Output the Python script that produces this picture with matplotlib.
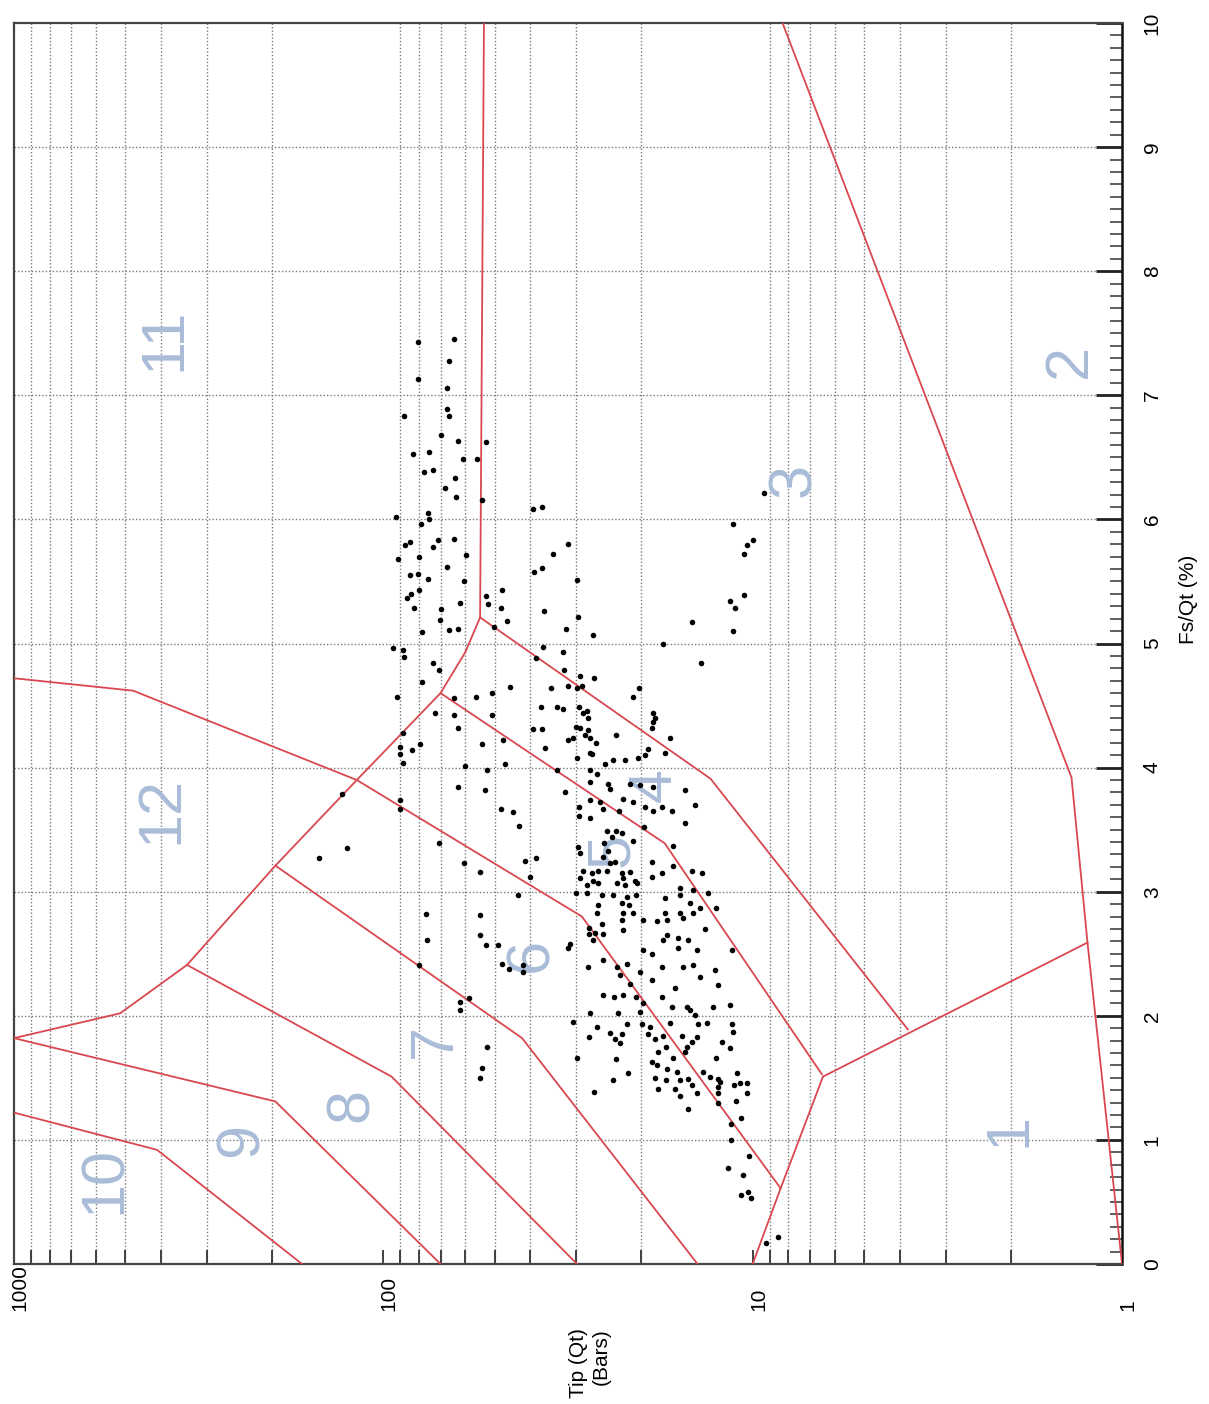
import numpy as np
import matplotlib
matplotlib.use("Agg")
import matplotlib.pyplot as plt
import matplotlib.transforms as mtransforms
from matplotlib.ticker import FixedLocator, NullFormatter

plt.rcParams['font.family'] = ['Liberation Sans', 'DejaVu Sans']

# axis ticks
qt_major = [1000, 100, 10, 1]
qt_labels = ['1000', '100', '10', '1']
qt_grid = [m * 10 ** k for k in range(3) for m in range(2, 10)]
fs_major = list(range(0, 11))
fs_minor = [i / 10 for i in range(0, 101)]

# zone boundaries (Qt in bars, Fs/Qt in %)
b_10_9_qt = [1000, 410, 166]
b_10_9_fs = [1.22, 0.92, 0.0]
b_9_8_qt = [1000, 196, 70]
b_9_8_fs = [1.82, 1.31, 0.0]
b_12_low_qt = [1000, 516, 340, 196, 118, 70, 60, 54.7]
b_12_low_fs = [1.82, 2.02, 2.41, 3.21, 3.90, 4.60, 4.93, 5.21]
b_11_3_qt = [54.7, 53.4]
b_11_3_fs = [5.21, 10.0]
b_12_11_qt = [1000, 476, 118, 29.0, 8.4]
b_12_11_fs = [4.72, 4.62, 3.90, 2.80, 0.61]
b_8_7_qt = [340, 95, 29.9]
b_8_7_fs = [2.41, 1.51, 0.0]
b_7_6_qt = [196, 42.1, 14.1]
b_7_6_fs = [3.21, 1.82, 0.0]
b_5_4_qt = [70, 17.3, 6.5]
b_5_4_fs = [4.60, 3.39, 1.53]
b_4_3_qt = [54.7, 13.0, 3.8]
b_4_3_fs = [5.21, 3.91, 1.89]
b_1_top_qt = [10.0, 8.4, 6.45]
b_1_top_fs = [0.0, 0.61, 1.51]
b_1_2_qt = [6.45, 1.24]
b_1_2_fs = [1.51, 2.59]
b_2_qt = [8.3, 1.37, 1.24, 1.0]
b_2_fs = [10.0, 3.92, 2.59, 0.0]

boundaries = [
    (b_10_9_qt, b_10_9_fs), (b_9_8_qt, b_9_8_fs), (b_12_low_qt, b_12_low_fs),
    (b_11_3_qt, b_11_3_fs), (b_12_11_qt, b_12_11_fs), (b_8_7_qt, b_8_7_fs),
    (b_7_6_qt, b_7_6_fs), (b_5_4_qt, b_5_4_fs), (b_4_3_qt, b_4_3_fs),
    (b_1_top_qt, b_1_top_fs), (b_1_2_qt, b_1_2_fs), (b_2_qt, b_2_fs),
]

# zone numbers
zone_names = ['1', '2', '3', '4', '5', '6', '7', '8', '9', '10', '11', '12']
zone_qt = [2.01, 1.38, 7.68, 18.4, 23.9, 39.6, 72.4, 121, 241, 567, 390, 397]
zone_fs = [1.08, 7.28, 6.32, 3.86, 3.34, 2.49, 1.80, 1.28, 1.00, 0.68, 7.45, 3.66]

# CPT readings: log10(Qt), Fs/Qt %
dots = np.array([
    (1.906, 7.43), (1.809, 7.45), (1.822, 7.28), (1.906, 7.13), (1.828, 7.06),
    (1.944, 6.83), (1.828, 6.89), (1.822, 6.83), (1.844, 6.68), (1.798, 6.63),
    (1.722, 6.62), (1.920, 6.53), (1.876, 6.54), (1.784, 6.49), (1.746, 6.49),
    (1.890, 6.38), (1.865, 6.40), (1.806, 6.33), (1.833, 6.25), (1.803, 6.18),
    (1.733, 6.16), (1.595, 6.08), (1.570, 6.10), (1.966, 6.02), (1.879, 6.05),
    (1.876, 6.00), (1.898, 5.96), (1.941, 5.79), (1.928, 5.82), (1.852, 5.83),
    (1.865, 5.78), (1.809, 5.84), (1.960, 5.68), (1.903, 5.70), (1.776, 5.71),
    (1.540, 5.72), (1.500, 5.80), (1.928, 5.55), (1.906, 5.56), (1.879, 5.52),
    (1.828, 5.62), (1.592, 5.58), (1.570, 5.61), (1.782, 5.50), (1.476, 5.51),
    (1.936, 5.37), (1.925, 5.40), (1.903, 5.43), (1.917, 5.29), (1.844, 5.28),
    (1.846, 5.19), (1.792, 5.33), (1.722, 5.38), (1.717, 5.32), (1.679, 5.43),
    (1.681, 5.29), (1.665, 5.18), (1.565, 5.26), (1.473, 5.21), (1.895, 5.09),
    (1.822, 5.11), (1.798, 5.12), (1.700, 5.13), (1.505, 5.12), (1.432, 5.07),
    (1.974, 4.96), (1.947, 4.95), (1.944, 4.89), (1.865, 4.84), (1.849, 4.79),
    (1.895, 4.69), (1.568, 4.97), (1.587, 4.88), (1.513, 4.93), (1.511, 4.79),
    (1.467, 4.74), (1.430, 4.72), (1.657, 4.65), (1.546, 4.64), (1.500, 4.66),
    (1.476, 4.64), (1.462, 4.66), (1.324, 4.57), (1.308, 4.64), (1.963, 4.57),
    (1.809, 4.56), (1.749, 4.57), (1.706, 4.60),
    (0.969, 6.21), (1.053, 5.96), (0.999, 5.83), (1.015, 5.79), (1.023, 5.72),
    (1.023, 5.39), (1.061, 5.34), (1.048, 5.29), (1.164, 5.17), (1.053, 5.10),
    (1.243, 5.00), (1.140, 4.84),
    (1.573, 4.49), (1.530, 4.49), (1.513, 4.47), (1.470, 4.49), (1.448, 4.46),
    (1.860, 4.44), (1.809, 4.42), (1.706, 4.42), (1.459, 4.44), (1.446, 4.40),
    (1.270, 4.44), (1.264, 4.40), (1.947, 4.28), (1.798, 4.32), (1.595, 4.31),
    (1.570, 4.31), (1.478, 4.33), (1.467, 4.32), (1.446, 4.30), (1.454, 4.26),
    (1.440, 4.24), (1.272, 4.32), (1.270, 4.37), (1.676, 4.22), (1.500, 4.22),
    (1.486, 4.24), (1.424, 4.20), (1.370, 4.26), (1.224, 4.24), (1.955, 4.17),
    (1.922, 4.14), (1.901, 4.19), (1.733, 4.19), (1.562, 4.16), (1.476, 4.08),
    (1.440, 4.12), (1.435, 4.11), (1.283, 4.15), (1.237, 4.12), (1.955, 4.11),
    (1.947, 4.04), (1.779, 4.01), (1.719, 3.98), (1.671, 4.03), (1.530, 3.98),
    (1.440, 3.98), (1.421, 3.95), (1.400, 4.03), (1.378, 4.06), (1.346, 4.06),
    (1.310, 4.08), (1.291, 4.10), (1.798, 3.84), (1.725, 3.82), (1.508, 3.80),
    (1.440, 3.88), (1.392, 3.87), (1.386, 3.83), (1.332, 3.87), (1.305, 3.86),
    (1.270, 3.84), (1.183, 3.82), (1.955, 3.74), (1.681, 3.67), (1.649, 3.64),
    (1.470, 3.68), (1.440, 3.74), (1.413, 3.72), (1.405, 3.67), (1.351, 3.75),
    (1.324, 3.72), (1.291, 3.68), (1.270, 3.65), (1.245, 3.68), (1.218, 3.65),
    (1.156, 3.70), (1.955, 3.67), (1.470, 3.61), (1.440, 3.59), (1.362, 3.65),
    (1.633, 3.53), (1.183, 3.55), (1.394, 3.49), (1.370, 3.49), (1.381, 3.44),
    (1.354, 3.47), (1.294, 3.52), (1.849, 3.39), (1.473, 3.36), (1.402, 3.39),
    (1.392, 3.33), (1.324, 3.41), (1.216, 3.37), (1.782, 3.23), (1.617, 3.25),
    (1.587, 3.27), (1.467, 3.31), (1.405, 3.28), (1.386, 3.23), (1.373, 3.24),
    (1.272, 3.24), (1.216, 3.21), (1.738, 3.16), (1.459, 3.17), (1.435, 3.15),
    (1.419, 3.17), (1.394, 3.17), (1.354, 3.15), (1.332, 3.16), (1.272, 3.12),
    (1.245, 3.15), (1.137, 3.15), (1.164, 3.17), (1.603, 3.12), (1.467, 3.11),
    (1.432, 3.09), (1.351, 3.11), (1.318, 3.09), (1.448, 3.05), (1.419, 3.07),
    (1.367, 3.07), (1.346, 3.05), (1.313, 3.07), (1.197, 3.03), (1.161, 3.01),
    (1.121, 2.99), (1.635, 2.97), (1.478, 2.99), (1.448, 2.99), (1.408, 2.97),
    (1.378, 2.97), (1.340, 2.96), (1.316, 2.97), (1.237, 2.95), (1.197, 2.97),
    (1.170, 2.91), (1.419, 2.89), (1.354, 2.91), (1.335, 2.89), (1.099, 2.87),
    (1.738, 2.81), (1.421, 2.83), (1.351, 2.83), (1.324, 2.83), (1.237, 2.83),
    (1.197, 2.83), (1.161, 2.83), (1.142, 2.87), (1.443, 2.71), (1.408, 2.74),
    (1.354, 2.77), (1.297, 2.77), (1.259, 2.76), (1.232, 2.77), (1.188, 2.79),
    (1.129, 2.70), (1.884, 2.82), (1.738, 2.65), (1.882, 2.61), (1.443, 2.66),
    (1.427, 2.67), (1.405, 2.66), (1.351, 2.69), (1.232, 2.65), (1.202, 2.63),
    (1.175, 2.61), (1.494, 2.58), (1.432, 2.61), (1.297, 2.53), (1.272, 2.50),
    (1.243, 2.61), (1.202, 2.55), (1.151, 2.53), (1.056, 2.53), (1.500, 2.55),
    (1.722, 2.57), (1.690, 2.57), (1.679, 2.42), (1.660, 2.38), (1.622, 2.41),
    (1.622, 2.35), (1.903, 2.41), (1.405, 2.45), (1.367, 2.39), (1.340, 2.42),
    (1.305, 2.35), (1.245, 2.39), (1.188, 2.39), (1.161, 2.41), (1.102, 2.37),
    (1.446, 2.39), (1.359, 2.33), (1.332, 2.26), (1.272, 2.29), (1.210, 2.22),
    (1.142, 2.31), (1.094, 2.25), (1.405, 2.17), (1.375, 2.15), (1.351, 2.17),
    (1.316, 2.15), (1.297, 2.10), (1.245, 2.15), (1.218, 2.07), (1.170, 2.05),
    (1.156, 2.01), (1.107, 2.07), (1.061, 2.09), (1.440, 2.02), (1.364, 2.02),
    (1.305, 2.03), (1.178, 2.07), (1.792, 2.11), (1.768, 2.14), (1.792, 2.05),
    (1.486, 1.95), (1.421, 1.91), (1.340, 1.93), (1.299, 1.93), (1.278, 1.91),
    (1.224, 1.94), (1.148, 1.93), (1.123, 1.94), (1.056, 1.93), (2.112, 3.79),
    (2.098, 3.35), (2.174, 3.27),
    (1.719, 1.75), (1.733, 1.58), (1.738, 1.50), (1.443, 1.83), (1.386, 1.86),
    (1.373, 1.81), (1.359, 1.78), (1.354, 1.85), (1.476, 1.66), (1.370, 1.65),
    (1.337, 1.54), (1.378, 1.48), (1.430, 1.39), (1.283, 1.85), (1.264, 1.81),
    (1.243, 1.84), (1.235, 1.75), (1.256, 1.71), (1.272, 1.63), (1.259, 1.60),
    (1.216, 1.66), (1.232, 1.57), (1.264, 1.50), (1.235, 1.48), (1.256, 1.41),
    (1.205, 1.55), (1.191, 1.84), (1.178, 1.75), (1.183, 1.71), (1.164, 1.79),
    (1.151, 1.83), (1.197, 1.48), (1.175, 1.49), (1.164, 1.44), (1.210, 1.41),
    (1.197, 1.35), (1.151, 1.38), (1.175, 1.25), (1.134, 1.55), (1.115, 1.51),
    (1.099, 1.66), (1.083, 1.79), (1.053, 1.87), (1.061, 1.74), (1.094, 1.49),
    (1.088, 1.47), (1.094, 1.43), (1.094, 1.38), (1.094, 1.30), (1.042, 1.54),
    (1.050, 1.44), (1.034, 1.46), (1.015, 1.46), (1.015, 1.38), (1.045, 1.31),
    (1.031, 1.18), (1.059, 1.13), (1.059, 1.00), (1.010, 0.87), (1.067, 0.77),
    (1.026, 0.72), (1.012, 0.58), (1.031, 0.56), (1.004, 0.53), (0.964, 0.17),
    (0.931, 0.22),
])

W, H = 1209, 1404
fig = plt.figure(figsize=(W / 100, H / 100), dpi=100)
ax = fig.add_axes([14 / W, 1 - 1264 / H, 1108 / W, 1241 / H])
ax.set_xscale('log')
ax.set_xlim(1000, 1)
ax.set_ylim(0, 10)

# grid
for q in qt_grid:
    if q in (10, 100):
        ax.axvline(q, color='#555555', lw=1.3, zorder=1)
    else:
        ax.axvline(q, color='#7a7a7a', lw=1.0, ls=(0, (1, 1.5)), zorder=1)
for f in fs_major[1:-1]:
    ax.axhline(f, color='#7a7a7a', lw=1.0, ls=(0, (1, 1.5)), zorder=1)

# ticks
ax.xaxis.set_major_locator(FixedLocator([100, 10]))
ax.xaxis.set_minor_locator(FixedLocator([q for q in qt_grid if q not in (10, 100)]))
ax.xaxis.set_major_formatter(NullFormatter())
ax.xaxis.set_minor_formatter(NullFormatter())
ax.tick_params(axis='x', which='both', direction='in', length=10, width=1.3,
               color='#333333', top=False, bottom=True)

ax.yaxis.tick_right()
ax.yaxis.set_major_locator(FixedLocator(fs_major))
ax.yaxis.set_minor_locator(FixedLocator(fs_minor))
ax.set_yticklabels([str(v) for v in fs_major], rotation=90, va='center')
ax.tick_params(axis='y', which='major', direction='in', length=19, width=2.0,
               pad=15, labelsize=15, color='#222222')
ax.tick_params(axis='y', which='minor', direction='in', length=9, width=1.1,
               color='#333333')

for side in ['left', 'top', 'bottom']:
    ax.spines[side].set_color('#444444')
    ax.spines[side].set_linewidth(1.6)
ax.spines['right'].set_color('#111111')
ax.spines['right'].set_linewidth(1.8)

# bottom tick labels (read upward, anchored below axis)
lab_trans = mtransforms.offset_copy(ax.get_xaxis_transform(), fig=fig, x=6, y=0, units='dots')
for q, lab in zip(qt_major, qt_labels):
    ax.text(q, (1264 - 1311) / 1241, lab, transform=lab_trans, rotation=90,
            ha='center', va='bottom', fontsize=15, clip_on=False)

# zone boundaries
for qs, fs in boundaries:
    ax.plot(qs, fs, color='#d9474f', lw=1.3, zorder=3)

# zone numbers
for name, q, f in zip(zone_names, zone_qt, zone_fs):
    ax.text(q, f, name, rotation=90, ha='center', va='center', fontsize=44,
            color='#a9bcd8', zorder=2)

# readings
ax.scatter(10 ** dots[:, 0], dots[:, 1], s=16, c='black', linewidths=0, zorder=4)

# axis titles
fig.text(1189 / W, 1 - 644 / H, 'Fs/Qt (%)', rotation=90, ha='center', va='bottom', fontsize=15)
fig.text(590 / W, 1 - 1328 / H, 'Tip (Qt)\n(Bars)', rotation=90, ha='center', va='top',
         multialignment='right', fontsize=15, linespacing=1.25)

fig.savefig('out.png', dpi=100, facecolor='white')
